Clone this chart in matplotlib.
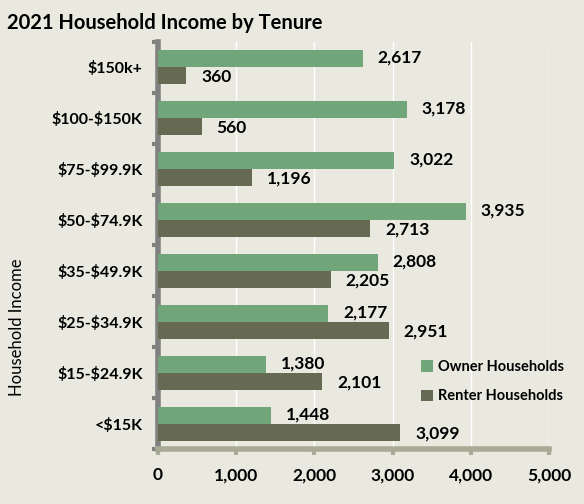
import numpy as np
import matplotlib
matplotlib.use("Agg")
from matplotlib import pyplot as plt

# data, top to bottom as in the chart
categories = ['$150k+', '$100-$150K', '$75-$99.9K', '$50-$74.9K',
              '$35-$49.9K', '$25-$34.9K', '$15-$24.9K', '<$15K']
owner = [2617, 3178, 3022, 3935, 2808, 2177, 1380, 1448]
renter = [360, 560, 1196, 2713, 2205, 2951, 2101, 3099]
xticks = [0, 1000, 2000, 3000, 4000, 5000]

bg = '#EAE9DF'
c_owner = '#71A67A'
c_renter = '#676A52'

plt.rcParams['font.family'] = ['Lato', 'DejaVu Sans']
plt.rcParams['text.parse_math'] = False

fig = plt.figure(figsize=(5.84, 5.04), dpi=100, facecolor=bg)
ax = fig.add_axes([0.2705, 0.109, 0.670, 0.808], facecolor=bg)

n = len(categories)
y = np.arange(n)[::-1]
h = 0.335

ax.barh(y + h / 2, owner, height=h, color=c_owner, label='Owner Households', zorder=3)
ax.barh(y - h / 2, renter, height=h, color=c_renter, label='Renter Households', zorder=3)

for yi, v in zip(y, owner):
    ax.text(v + 190, yi + h / 2 + 0.02, f'{v:,}', va='center', ha='left',
            fontsize=12.5, fontweight='bold', zorder=4)
for yi, v in zip(y, renter):
    ax.text(v + 190, yi - h / 2 - 0.02, f'{v:,}', va='center', ha='left',
            fontsize=12.5, fontweight='bold', zorder=4)

ax.set_xlim(0, 5000)
ax.set_ylim(-0.5, n - 0.5)
ax.set_xticks(xticks)
ax.set_xticklabels([f'{t:,}' for t in xticks], fontsize=12.5, fontweight='bold')
ax.set_yticks(y)
ax.set_yticklabels(categories, fontsize=11.5, fontweight='bold')
ax.tick_params(axis='y', length=0, pad=11)
ax.tick_params(axis='x', length=4, width=3, color='#A9AA96', direction='out', pad=9)

# y ticks at category boundaries
ax.set_yticks(np.arange(n + 1) - 0.5, minor=True)
ax.tick_params(axis='y', which='minor', length=4, width=3, color='#808080')

ax.grid(axis='x', color='white', linewidth=1, zorder=0)
for s in ['top', 'right']:
    ax.spines[s].set_visible(False)
ax.spines['left'].set_color('#808080')
ax.spines['left'].set_linewidth(4)
ax.spines['bottom'].set_color('#A9AA96')
ax.spines['bottom'].set_linewidth(4)

ax.set_ylabel('Household Income', fontsize=12)
ax.yaxis.set_label_coords(-0.34, 0.30)

leg = ax.legend(loc='lower right', bbox_to_anchor=(1.07, 0.08), frameon=False,
                fontsize=10.5, handlelength=0.8, handleheight=0.8,
                handletextpad=0.3, labelspacing=1.05)
for t in leg.get_texts():
    t.set_fontweight('bold')

fig.text(0.012, 0.955, '2021 Household Income by Tenure', fontsize=14.5,
         fontweight='bold', ha='left', va='center')

fig.savefig('out.png', dpi=100, facecolor=bg)
